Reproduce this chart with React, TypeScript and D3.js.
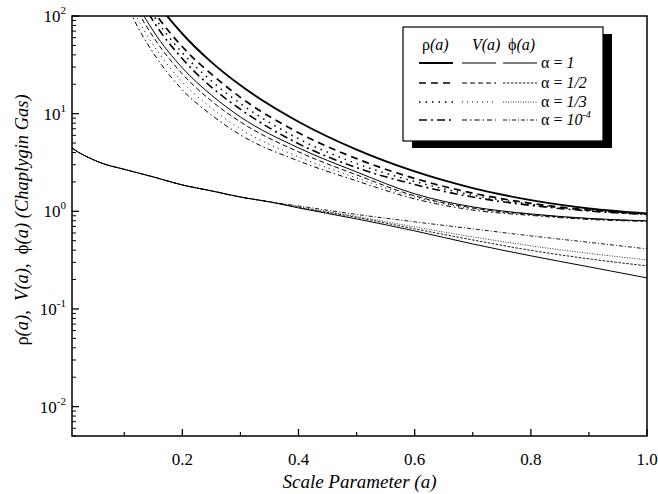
import React from 'react';
import * as d3 from 'd3';

// Upper group (rho and V) sampled on a shared scale-factor grid
const upperA = [0.1, 0.125, 0.15, 0.2, 0.25, 0.3, 0.4, 0.5, 0.6, 0.7, 0.8, 0.9, 1.0];
const rho1 = [572, 282, 156, 65.8, 33.7, 19.5, 8.26, 4.28, 2.56, 1.73, 1.30, 1.07, 0.95];
const rhoHalf = [421, 208, 115, 48.4, 25.4, 14.7, 6.38, 3.46, 2.17, 1.535, 1.208, 1.03, 0.938];
const rhoThird = [374, 185, 102, 42.0, 21.6, 12.7, 5.53, 3.08, 2.02, 1.465, 1.18, 1.02, 0.938];
const rhoSmall = [325, 160, 88.7, 36.5, 18.7, 11.1, 4.92, 2.80, 1.88, 1.40, 1.15, 1.007, 0.927];
const v1 = [251, 124, 70.2, 29.4, 15.5, 9.25, 4.46, 2.53, 1.51, 1.11, 0.940, 0.846, 0.798];
const vHalf = [218, 107, 61.0, 25.5, 13.5, 8.22, 4.06, 2.36, 1.44, 1.083, 0.929, 0.840, 0.798];
const vThird = [180, 88.9, 50.5, 21.1, 11.4, 6.97, 3.61, 2.20, 1.40, 1.06, 0.918, 0.834, 0.789];
const vSmall = [149, 73.6, 41.8, 17.5, 9.70, 6.05, 3.28, 2.05, 1.34, 1.03, 0.908, 0.826, 0.789];

// Lower group (phi)
const phiA = [0.01, 0.02, 0.04, 0.06, 0.1, 0.15, 0.2, 0.25, 0.3, 0.35, 0.4, 0.5, 0.6, 0.7, 0.8, 0.9, 1.0];
const phi1 = [4.46, 4.06, 3.52, 3.13, 2.69, 2.25, 1.86, 1.62, 1.40, 1.25, 1.083, 0.836, 0.630, 0.463, 0.350, 0.270, 0.208];
const phiHalf = [4.46, 4.06, 3.52, 3.13, 2.69, 2.25, 1.86, 1.62, 1.40, 1.25, 1.096, 0.866, 0.661, 0.509, 0.398, 0.326, 0.276];
const phiThird = [4.46, 4.06, 3.52, 3.13, 2.69, 2.25, 1.86, 1.62, 1.40, 1.25, 1.11, 0.887, 0.692, 0.547, 0.443, 0.371, 0.318];
const phiSmall = [4.46, 4.06, 3.52, 3.13, 2.69, 2.25, 1.86, 1.62, 1.40, 1.25, 1.135, 0.929, 0.780, 0.661, 0.560, 0.481, 0.412];

const alphaLabels = ['1', '1/2', '1/3', '10'];
const alphaSup = ['', '', '', '-4'];
const xMajorTicks = [0.2, 0.4, 0.6, 0.8, 1.0];
const xTickLabels = ['0.2', '0.4', '0.6', '0.8', '1.0'];
const xMinorTicks = [0.1, 0.3, 0.5, 0.7, 0.9];
const yDecades = [-2, -1, 0, 1, 2];

const rhoStyles = [
  { w: 1.9, dash: undefined },
  { w: 1.7, dash: '7,5' },
  { w: 1.5, dash: '1.5,5' },
  { w: 1.6, dash: '8,4,2,4' },
];
const vStyles = [
  { w: 1.0, dash: undefined },
  { w: 1.0, dash: '5,3' },
  { w: 1.0, dash: '1,4' },
  { w: 1.0, dash: '5,3,1.5,3' },
];
const phiStyles = [
  { w: 1.0, dash: undefined },
  { w: 0.9, dash: '2.5,1.5' },
  { w: 0.8, dash: '1,1.5' },
  { w: 0.9, dash: '4,2,1,2' },
];

const FONT = 'Liberation Serif';
const NB = '\u00A0';

export default function App() {
  const W = 658, H = 494;
  const L = 72, R = 647, T = 16, B = 436;
  const x = d3.scaleLinear().domain([0.01, 1.0]).range([L, R]);
  const y = d3.scaleLog().domain([0.005, 100]).range([B, T]);
  const line = d3.line<[number, number]>()
    .x(d => x(d[0]))
    .y(d => y(d[1]))
    .curve(d3.curveMonotoneX);

  const mk = (as: number[], vs: number[]) => line(as.map((a, i) => [a, vs[i]] as [number, number])) || '';
  const rhoSeries = [rho1, rhoHalf, rhoThird, rhoSmall];
  const vSeries = [v1, vHalf, vThird, vSmall];
  const phiSeries = [phi1, phiHalf, phiThird, phiSmall];

  const yMinor: number[] = [];
  for (let e = -3; e <= 1; e++) {
    for (let k = 2; k <= 9; k++) {
      const v = k * Math.pow(10, e);
      if (v >= 0.005 && v <= 100) yMinor.push(v);
    }
  }

  const legX = 403, legY = 27, legW = 200, legH = 114;
  const rowY = [63, 83, 102, 120];
  const segs = [[419, 453], [462, 496], [503, 537]];

  return (
    <svg width={W} height={H} style={{ position: 'absolute', left: 0, top: 0, background: '#fff' }}
      fontFamily={FONT}>
      <defs>
        <clipPath id="plotclip">
          <rect x={L} y={T} width={R - L} height={B - T} />
        </clipPath>
      </defs>
      <rect x={0} y={0} width={W} height={H} fill="#fff" />
      <g clipPath="url(#plotclip)" fill="none" stroke="#000">
        {phiSeries.map((s, i) => (
          <path key={'p' + i} d={mk(phiA, s)} strokeWidth={phiStyles[i].w} strokeDasharray={phiStyles[i].dash} />
        ))}
        {vSeries.map((s, i) => (
          <path key={'v' + i} d={mk(upperA, s)} strokeWidth={vStyles[i].w} strokeDasharray={vStyles[i].dash} />
        ))}
        {rhoSeries.map((s, i) => (
          <path key={'r' + i} d={mk(upperA, s)} strokeWidth={rhoStyles[i].w} strokeDasharray={rhoStyles[i].dash} />
        ))}
      </g>
      {/* legend */}
      <rect x={legX + 9} y={legY + 7} width={legW} height={legH} fill="#000" />
      <rect x={legX} y={legY} width={legW} height={legH} fill="#fff" stroke="#000" strokeWidth={1.2} />
      <text x={422} y={50} fontSize={16}>ρ<tspan fontStyle="italic">(a)</tspan></text>
      <text x={472} y={50} fontSize={16} fontStyle="italic">V(a)</text>
      <text x={508} y={50} fontSize={16}>ϕ<tspan fontStyle="italic">(a)</tspan></text>
      {rowY.map((ry, i) => (
        <g key={'lg' + i}>
          <line x1={segs[0][0]} x2={segs[0][1]} y1={ry} y2={ry} stroke="#000" strokeWidth={rhoStyles[i].w} strokeDasharray={rhoStyles[i].dash} />
          <line x1={segs[1][0]} x2={segs[1][1]} y1={ry} y2={ry} stroke="#000" strokeWidth={vStyles[i].w} strokeDasharray={vStyles[i].dash} />
          <line x1={segs[2][0]} x2={segs[2][1]} y1={ry} y2={ry} stroke="#000" strokeWidth={phiStyles[i].w} strokeDasharray={phiStyles[i].dash} />
          <text x={541} y={ry + 5} fontSize={16}>α = <tspan fontStyle="italic">{alphaLabels[i]}</tspan>
            {alphaSup[i] ? <tspan fontStyle="italic" fontSize={10} dy={-7}>{alphaSup[i]}</tspan> : null}
          </text>
        </g>
      ))}
      {/* axes frame */}
      <rect x={L} y={T} width={R - L} height={B - T} fill="none" stroke="#000" strokeWidth={1.5} />
      {/* x ticks */}
      {xMajorTicks.map((t, i) => (
        <g key={'xt' + i}>
          <line x1={x(t)} x2={x(t)} y1={B} y2={B - 7} stroke="#000" strokeWidth={1.3} />
          <text x={x(t)} y={465} fontSize={17} textAnchor="middle">{xTickLabels[i]}</text>
        </g>
      ))}
      {xMinorTicks.map((t, i) => (
        <line key={'xm' + i} x1={x(t)} x2={x(t)} y1={B} y2={B - 4} stroke="#000" strokeWidth={1.2} />
      ))}
      {/* y ticks */}
      {yDecades.map(e => (
        <g key={'yt' + e}>
          <line x1={L} x2={L + 7} y1={y(Math.pow(10, e))} y2={y(Math.pow(10, e))} stroke="#000" strokeWidth={1.3} />
          <text x={L - 6} y={y(Math.pow(10, e)) + 6} fontSize={17} textAnchor="end">
            10<tspan fontSize={11} dy={-8}>{String(e)}</tspan>
          </text>
        </g>
      ))}
      {yMinor.map((v, i) => (
        <line key={'ym' + i} x1={L} x2={L + 4} y1={y(v)} y2={y(v)} stroke="#000" strokeWidth={1} />
      ))}
      {/* axis titles */}
      <text x={(L + R) / 2} y={488} fontSize={19} fontStyle="italic" textAnchor="middle">Scale Parameter (a)</text>
      <text transform="translate(28,220) rotate(-90)" fontSize={18.5} textAnchor="middle">
        ρ<tspan fontStyle="italic">(a)</tspan>{',' + NB + NB}<tspan fontStyle="italic">V(a)</tspan>{',' + NB + NB}ϕ<tspan fontStyle="italic">{'(a)' + NB + '(Chaplygin Gas)'}</tspan>
      </text>
    </svg>
  );
}
